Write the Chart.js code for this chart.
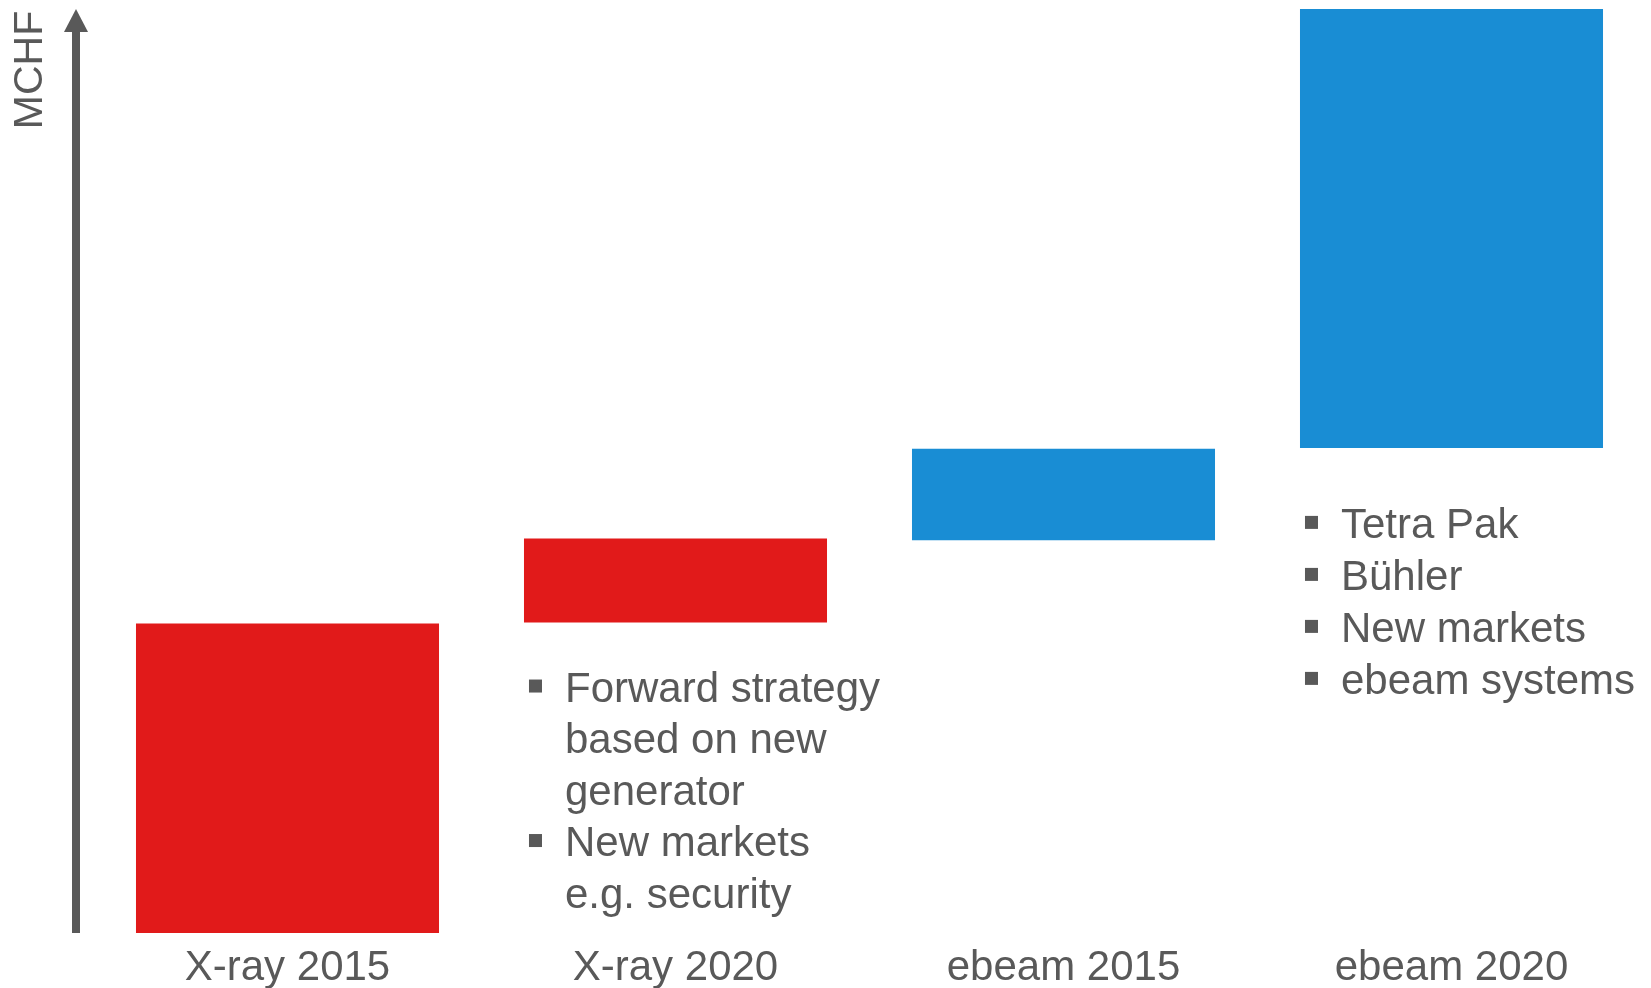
<!DOCTYPE html>
<html>
<head>
<meta charset="utf-8">
<script src="https://cdn.jsdelivr.net/npm/chart.js@4"></script>
<style>
  body { margin: 0; background: #fff; }
  canvas { display: block; }
</style>
</head>
<body>
<canvas id="myChart" width="1651" height="988"></canvas>
<script>
'use strict'
// categories and floating bar ranges (MCHF, arbitrary scale 0-100)
var categories = ['X-ray 2015', 'X-ray 2020', 'ebeam 2015', 'ebeam 2020'];
var barStart = [0, 33.6, 42.5, 52.5];
var barEnd = [33.5, 42.7, 52.4, 100];
var barColors = ['#E11A1A', '#E11A1A', '#198DD4', '#198DD4'];
var axisTitle = 'MCHF';

// bullet notes hanging under bars
var xrayNotes = [
  { text: 'Forward strategy', bullet: true },
  { text: 'based on new', bullet: false },
  { text: 'generator', bullet: false },
  { text: 'New markets', bullet: true },
  { text: 'e.g. security', bullet: false }
];
var ebeamNotes = [
  { text: 'Tetra Pak', bullet: true },
  { text: 'Bühler', bullet: true },
  { text: 'New markets', bullet: true },
  { text: 'ebeam systems', bullet: true }
];

var grey = '#595959';
var fontFamily = '"Liberation Sans", Arial, sans-serif';

var rangeData = [];
for (var i = 0; i < categories.length; i++) {
  rangeData.push([barStart[i], barEnd[i]]);
}

function drawNotes(ctx, chart, index, notes, dropBelow, lineGap) {
  var bar = chart.getDatasetMeta(0).data[index];
  var left = bar.x - bar.width / 2;
  var y = chart.scales.y.getPixelForValue(barStart[index]) + dropBelow;
  ctx.font = '42px ' + fontFamily;
  ctx.fillStyle = grey;
  ctx.textBaseline = 'alphabetic';
  ctx.textAlign = 'left';
  for (var j = 0; j < notes.length; j++) {
    var base = y + j * lineGap;
    if (notes[j].bullet) {
      ctx.fillRect(left + 5, base - 22, 13, 13);
    }
    ctx.fillText(notes[j].text, left + 41, base);
  }
}

var decorations = {
  id: 'decorations',
  afterDraw: function (chart) {
    var ctx = chart.ctx;
    var area = chart.chartArea;
    var yScale = chart.scales.y;
    var ax = area.left - 17.5;
    var bottom = yScale.getPixelForValue(0);
    ctx.save();
    // arrow axis
    ctx.fillStyle = grey;
    ctx.fillRect(ax - 4, area.top + 22, 8, bottom - area.top - 22);
    ctx.beginPath();
    ctx.moveTo(ax, area.top);
    ctx.lineTo(ax + 12, area.top + 23);
    ctx.lineTo(ax - 12, area.top + 23);
    ctx.closePath();
    ctx.fill();
    // rotated title
    ctx.save();
    ctx.translate(ax - 45, area.top + 61);
    ctx.rotate(-Math.PI / 2);
    ctx.font = '41px ' + fontFamily;
    ctx.textAlign = 'center';
    ctx.textBaseline = 'middle';
    ctx.fillText(axisTitle, 0, 0);
    ctx.restore();
    drawNotes(ctx, chart, 1, xrayNotes, 79, 51.5);
    drawNotes(ctx, chart, 3, ebeamNotes, 90, 52);
    ctx.restore();
  }
};

var ctx = document.getElementById('myChart').getContext('2d');
var chart = new Chart(ctx, {
  type: 'bar',
  data: {
    labels: categories,
    datasets: [{
      data: rangeData,
      backgroundColor: barColors,
      borderWidth: 0,
      barPercentage: 0.781,
      categoryPercentage: 1
    }]
  },
  options: {
    responsive: false,
    animation: false,
    devicePixelRatio: 1,
    layout: { padding: { left: 93.5, right: 5.5, top: 9, bottom: 0 } },
    plugins: {
      legend: { display: false },
      tooltip: { enabled: false }
    },
    scales: {
      x: {
        grid: { display: false },
        border: { display: false },
        afterFit: function (scale) { scale.height = 55; },
        ticks: {
          color: grey,
          padding: 6,
          font: { family: fontFamily, size: 42, lineHeight: 1.0 }
        }
      },
      y: {
        display: false,
        min: 0,
        max: 100
      }
    }
  },
  plugins: [decorations]
});
</script>
</body>
</html>
